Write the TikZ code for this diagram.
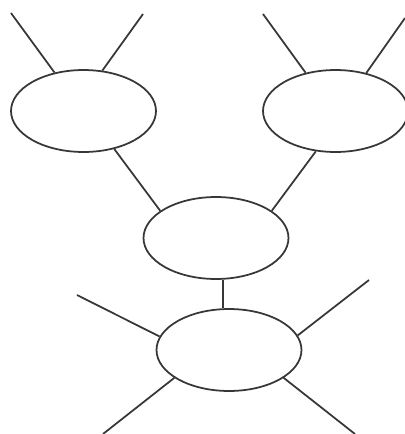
\documentclass[tikz,border=0pt]{standalone}
\usepackage{xcolor}
\usepackage{tikz}
\usetikzlibrary{shapes.geometric}
\definecolor{ink}{RGB}{55,55,55}

\begin{document}
\begin{tikzpicture}[
  x=0.02cm, y=-0.02cm,
  blob/.style={draw=ink, ellipse, line width=1pt, inner sep=0pt,
               minimum width=2.9cm, minimum height=1.64cm},
  link/.style={draw=ink, line width=1pt}
]
\useasboundingbox (0,0) rectangle (405,434);

% Ellipses
\node[blob] (tl)  at (83.5, 111) {};
\node[blob] (tr)  at (335.5, 111) {};
\node[blob] (mid) at (216, 238) {};
\node[blob] (bot) at (229, 350) {};

% Loose ends
\coordinate (tla) at (11, 13);
\coordinate (tlb) at (143, 14);
\coordinate (tra) at (263, 14);
\coordinate (trb) at (405, 18);
\coordinate (bla) at (77, 295);
\coordinate (blb) at (103, 434);
\coordinate (bra) at (369, 280);
\coordinate (brb) at (355, 434);

% Top pair
\draw[link] (tl.127) -- (tla);
\draw[link] (tl.65) -- (tlb);
\draw[link] (tr.128) -- (tra);
\draw[link] (tr.51) -- (trb);

% Into the middle
\draw[link] (tl.-51) -- (mid.154);
\draw[link] (tr.244) -- (mid.26);
\draw[link] (mid.-80) -- (mid.-80 |- bot.north);

% Bottom spokes
\draw[link] (bot.169) -- (bla);
\draw[link] (bot.207) -- (blb);
\draw[link] (bot.12) -- (bra);
\draw[link] (bot.333) -- (brb);

\end{tikzpicture}
\end{document}
